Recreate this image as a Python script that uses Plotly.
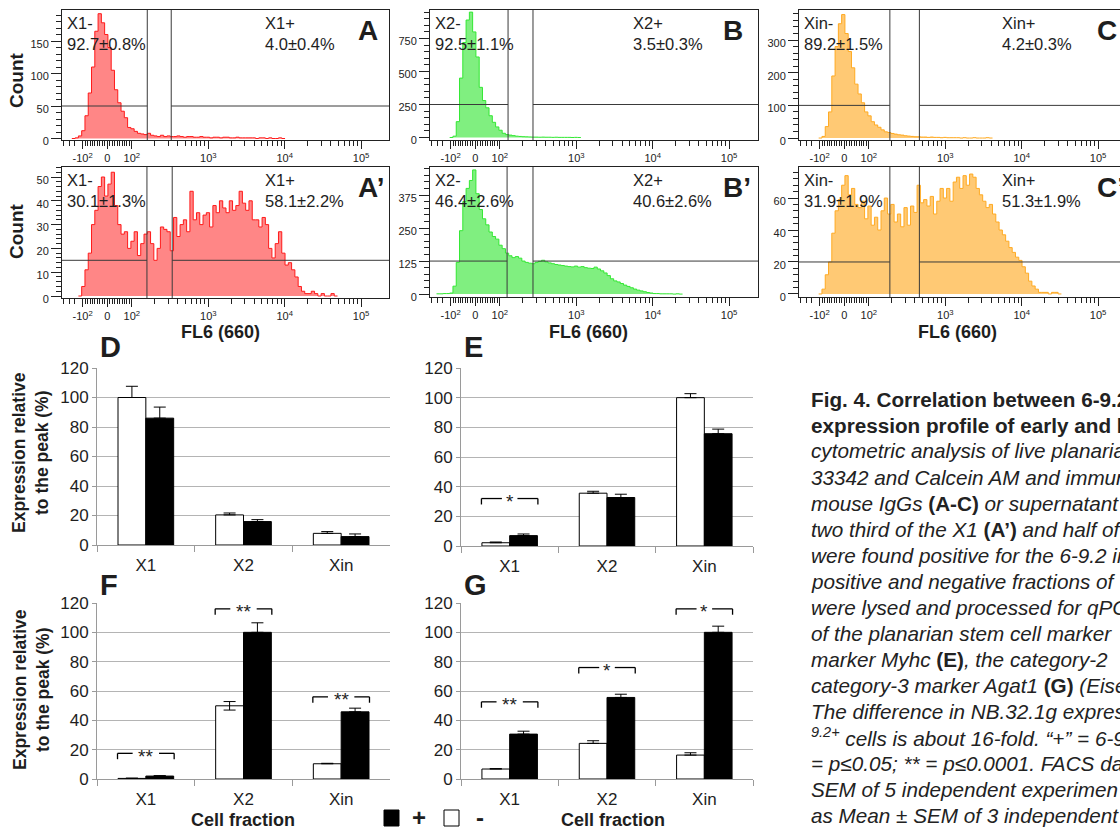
import numpy as np
import plotly.graph_objects as go

W, H = 1120, 829

# ---------------- DATA ----------------
# Flow cytometry histograms: counts per 10-channel FL6 bin (channel scale 0..1000 across the plot)
BIN = 10
A_start = 30
A_counts = [0, 1, 4, 12, 35, 70, 110, 165, 192, 178, 160, 140, 105, 75, 55, 42, 32, 17, 15, 11, 8,
            7, 6, 8, 5, 4, 3, 5, 3, 4, 3, 3, 4, 3, 2, 3, 3, 2,
            2, 3, 2, 2, 1, 2, 2, 1, 2, 2, 1, 1, 2, 1, 1, 1,
            1, 1, 0, 1, 1, 0, 1, 0, 0, 1, 0]
Ap_start = 50
Ap_counts = [0, 4, 11, 18, 30, 36, 46, 50, 42, 47, 52, 38, 30, 26, 27, 20, 23, 27, 17, 22, 26, 27, 22,
             15, 20, 29, 28, 27, 19, 33, 25, 30, 32, 27, 44, 32, 35, 30, 34, 35, 29, 38, 35, 40, 37,
             35, 40, 36, 38, 44, 39, 36, 40, 32, 32, 29, 33, 30, 20, 16, 22, 27, 18, 13, 14, 11, 8,
             4, 2, 1, 1, 2, 1, 0, 1, 0, 0, 1, 0]
B_start = 60
B_counts = [0, 10, 120, 450, 720, 890, 950, 800, 610, 380, 280, 225, 165, 115, 80, 55, 32, 22, 18,
            14, 10, 8, 6, 5, 4, 3, 3, 2, 3, 2, 2, 1, 2, 1, 1, 1, 1, 0, 1, 0]
Bp_start = 20
Bp_counts = [1, 1, 2, 2, 4, 30, 120, 240, 350, 400, 430, 470, 380, 320, 285, 262, 235, 218, 208,
             185, 172, 155, 145, 138, 142, 136, 125, 120, 117, 115, 120, 124, 128, 122, 118, 115,
             112, 110, 108, 106, 104, 103, 106, 102, 104, 100, 98, 97, 102, 95, 88, 80, 70, 58, 50,
             46, 40, 34, 29, 24, 19, 15, 12, 9, 6, 4, 2, 2, 1, 1, 1, 1, 0, 1, 0]
C_start = 60
C_counts = [0, 5, 35, 80, 190, 280, 350, 378, 320, 265, 215, 165, 135, 108, 80, 68, 50, 40, 33, 25,
            19, 17, 14, 12, 10, 9, 7, 6, 5, 4, 4, 3, 3, 2, 3, 2, 2, 1, 2, 1, 1, 1, 1, 0, 1, 0, 0,
            1, 0, 0, 0, 1, 0]
Cp_start = 60
Cp_counts = [0, 3, 12, 20, 38, 52, 59, 68, 74, 62, 66, 56, 54, 58, 47, 55, 43, 48, 40, 52, 60, 50,
             56, 45, 50, 42, 54, 43, 55, 51, 68, 57, 59, 55, 61, 50, 58, 66, 60, 66, 58, 70, 73, 66,
             74, 68, 75, 73, 66, 62, 58, 54, 56, 50, 45, 40, 37, 33, 29, 26, 23, 21, 17, 13, 8, 5,
             3, 1, 1, 1, 0, 1, 1, 0]

neg_names = ["X1-", "X1-", "X2-", "X2-", "Xin-", "Xin-"]
neg_pct = ["92.7±0.8%", "30.1±1.3%", "92.5±1.1%", "46.4±2.6%", "89.2±1.5%", "31.9±1.9%"]
pos_names = ["X1+", "X1+", "X2+", "X2+", "Xin+", "Xin+"]
pos_pct = ["4.0±0.4%", "58.1±2.2%", "3.5±0.3%", "40.6±2.6%", "4.2±0.3%", "51.3±1.9%"]
panel_letters = ["A", "A’", "B", "B’", "C", "C’"]
gate_lo = [260, 259, 238, 235, 277, 277]      # gate boundaries (channels)
gate_hi = [333, 336, 314, 314, 367, 367]
gate_level = [50, 15, 250, 125, 100, 20]       # count level of the horizontal marker

# qPCR bar charts (expression relative to peak, %)
cats = ["X1", "X2", "Xin"]
D_neg = [100, 20.4, 7.9];   D_neg_err = [7.6, 1.3, 1.2]
D_pos = [86, 15.9, 5.7];    D_pos_err = [7.5, 1.3, 1.8]
E_neg = [2.2, 35.6, 100];   E_neg_err = [0.5, 1.3, 2.7]
E_pos = [7.0, 32.7, 75.7];  E_pos_err = [1.1, 2.2, 3.1]
F_neg = [0.4, 49.9, 10.4];  F_neg_err = [0.2, 2.9, 0.3]
F_pos = [2.0, 100, 45.8];   F_pos_err = [0.3, 6.5, 2.5]
G_neg = [6.8, 24.3, 16.3];  G_neg_err = [0.3, 1.8, 1.6]
G_pos = [30.6, 55.6, 100];  G_pos_err = [2.0, 2.2, 4.2]
F_neg_err_minus = [0, 2.9, 0]
E_sig = [("X1", 32, "*")]
F_sig = [("X1", 17.5, "**"), ("X2", 116, "**"), ("Xin", 56, "**")]
G_sig = [("X1", 52.6, "**"), ("X2", 76, "*"), ("Xin", 116, "*")]

caption_lines = [
    "<b>Fig. 4. Correlation between 6-9.2</b>",
    "<b>expression profile of early and late</b>",
    "<i>cytometric analysis of live planarian</i>",
    "<i>33342 and Calcein AM and immuno</i>",
    "<i>mouse IgGs </i><b>(A-C)</b><i> or supernatant fr</i>",
    "<i>two third of the X1 </i><b>(A’)</b><i> and half of</i>",
    "<i>were found positive for the 6-9.2 im</i>",
    "<i>positive and negative fractions of</i>",
    "<i>were lysed and processed for qPC</i>",
    "<i>of the planarian stem cell marker</i>",
    "<i>marker Myhc </i><b>(E)</b><i>, the category-2</i>",
    "<i>category-3 marker Agat1 </i><b>(G)</b><i> (Eisen</i>",
    "<i>The difference in NB.32.1g express</i>",
    "<i><sup>9.2+</sup> cells is about 16-fold. “+” = 6-9</i>",
    "<i>= p≤0.05; ** = p≤0.0001. FACS da</i>",
    "<i>SEM of 5 independent experimen</i>",
    "<i>as Mean ± SEM of 3 independent e</i>",
]

# ---------------- LAYOUT HELPERS ----------------
FONT = "Liberation Sans, Arial, Helvetica, sans-serif"
INK = "#1e1e1e"


def dom_x(a, b):
    return [a / W, min(b / W, 1.0)]


def dom_y(top, bottom):
    return [1 - bottom / H, 1 - top / H]


def px(x):
    return x / W


def py(y):
    return 1 - y / H


def chan(v):
    v = float(v)
    if v >= 100:
        return 213 + 233 * (np.log10(v) - 2)
    if v >= -100:
        return 138 + 0.75 * v
    return 63 - 0.35 * 233 * (np.log10(-v) - 2)


major_vals = [chan(v) for v in [-100, 0, 100, 1e3, 1e4, 1e5]]
major_text = ["-10<sup>2</sup>", "0", "10<sup>2</sup>", "10<sup>3</sup>", "10<sup>4</sup>", "10<sup>5</sup>"]
minor_vals = [chan(v) for v in [-500, -300, -200]]
minor_vals += [chan(v) for v in range(-90, 100, 10) if v != 0]
minor_vals += [chan(m * 10 ** e) for e in (2, 3, 4) for m in range(2, 10)]

fig = go.Figure()
layout = dict(
    width=W, height=H, margin=dict(l=0, r=0, t=0, b=0, autoexpand=False),
    paper_bgcolor="white", plot_bgcolor="white",
    font=dict(family=FONT, color=INK),
    showlegend=False, barmode="group", bargap=0.43, bargroupgap=0,
)
shapes, annotations = [], []

hist_data = [(A_start, A_counts), (Ap_start, Ap_counts), (B_start, B_counts),
             (Bp_start, Bp_counts), (C_start, C_counts), (Cp_start, Cp_counts)]
hist_box = [(62, 389, 10, 140), (62, 389, 167, 298), (430, 758, 10, 140),
            (430, 758, 167, 297), (799, 1120, 10, 140), (799, 1120, 167, 297)]
hist_yrange = [[-2.3, 197.7], [-0.84, 54.2], [-19, 966], [-11, 481], [-6, 392], [-1.9, 79.4]]
hist_dtick = [(50, 10), (10, 2), (250, 50), (125, 25), (100, 20), (20, 4)]
line_cols = ["#ff1a1a", "#ff1a1a", "#33e833", "#33e833", "#ffaa22", "#ffaa22"]
fill_cols = ["rgba(255,60,60,0.62)", "rgba(255,60,60,0.62)", "rgba(60,230,60,0.65)",
             "rgba(60,230,60,0.65)", "rgba(255,175,50,0.68)", "rgba(255,175,50,0.68)"]
letter_left = [356, 356, 721, 721, 1095, 1095]

for i in range(6):
    n = i + 1
    xa, ya = ("x" if n == 1 else f"x{n}"), ("y" if n == 1 else f"y{n}")
    xk, yk = ("xaxis" if n == 1 else f"xaxis{n}"), ("yaxis" if n == 1 else f"yaxis{n}")
    l, r, t, b = hist_box[i]
    xmax = 1000 * (r - l) / 328.0
    start, counts = hist_data[i]
    xs = [start + BIN * k for k in range(len(counts))] + [start + BIN * len(counts)]
    ys = list(counts) + [0]
    fig.add_trace(go.Scatter(x=xs, y=ys, mode="lines", line=dict(shape="hv", color=line_cols[i], width=1),
                             fill="tozeroy", fillcolor=fill_cols[i], xaxis=xa, yaxis=ya,
                             hoverinfo="skip"))
    layout[xk] = dict(domain=dom_x(l, r), range=[0, xmax], anchor=ya, showline=True, mirror=True,
                      linecolor="#222", linewidth=1, ticks="outside", ticklen=8, tickcolor="#222",
                      tickmode="array", tickvals=major_vals, ticktext=major_text,
                      tickfont=dict(size=11, color="#222"), showgrid=False, zeroline=False,
                      automargin=False,
                      minor=dict(tickmode="array", tickvals=minor_vals, ticks="outside", ticklen=5,
                                 tickcolor="#222", showgrid=False))
    d1, d2 = hist_dtick[i]
    layout[yk] = dict(domain=dom_y(t, b), range=hist_yrange[i], anchor=xa, showline=True, mirror=True,
                      linecolor="#222", linewidth=1, ticks="outside", ticklen=10, tickcolor="#222",
                      tickmode="linear", tick0=0, dtick=d1, tickfont=dict(size=11, color="#222"),
                      ticklabelshift=3, ticklabelstandoff=0, automargin=False,
                      showgrid=False, zeroline=False,
                      minor=dict(tickmode="linear", tick0=0, dtick=d2, ticks="outside", ticklen=5,
                                 tickcolor="#222", showgrid=False))
    g1, g2, lv = gate_lo[i], gate_hi[i], gate_level[i]
    gl = dict(color="#3a3a3a", width=1)
    shapes += [
        dict(type="line", xref=xa, yref=ya, x0=0, x1=g1, y0=lv, y1=lv, line=gl),
        dict(type="line", xref=xa, yref=ya, x0=g2, x1=xmax + 20, y0=lv, y1=lv, line=gl),
        dict(type="line", xref=xa, yref=f"{ya} domain", x0=g1, x1=g1, y0=0, y1=1, line=gl),
        dict(type="line", xref=xa, yref=f"{ya} domain", x0=g2, x1=g2, y0=0, y1=1, line=gl),
    ]
    row1, row2 = t + 13, t + 34.5
    for txt, xx, yy in [(neg_names[i], l + 3, row1), (neg_pct[i], l + 3, row2),
                        (pos_names[i], l + 201, row1), (pos_pct[i], l + 201, row2)]:
        annotations.append(dict(text=txt, x=px(xx), y=py(yy), xref="paper", yref="paper",
                                xanchor="left", yanchor="middle", showarrow=False,
                                font=dict(size=16.5, color=INK)))
    annotations.append(dict(text=f"<b>{panel_letters[i]}</b>", x=px(letter_left[i]), y=py(t + 20),
                            xref="paper", yref="paper", xanchor="left", yanchor="middle",
                            showarrow=False, font=dict(size=28, color=INK)))
    if i % 2 == 1:
        annotations.append(dict(text="<b>FL6 (660)</b>", x=px(l + 158), y=py(332), xref="paper",
                                yref="paper", xanchor="center", yanchor="middle", showarrow=False,
                                font=dict(size=18, color=INK)))
    if i < 2:
        annotations.append(dict(text="<b>Count</b>", x=px(17), y=py(80 if i == 0 else 231),
                                xref="paper", yref="paper", textangle=-90, xanchor="center",
                                yanchor="middle", showarrow=False, font=dict(size=19, color=INK)))

bar_sets = [(D_neg, D_neg_err, [0, 0, 0], D_pos, D_pos_err, []),
            (E_neg, E_neg_err, [0, 0, 0], E_pos, E_pos_err, E_sig),
            (F_neg, F_neg_err, F_neg_err_minus, F_pos, F_pos_err, F_sig),
            (G_neg, G_neg_err, [0, 0, 0], G_pos, G_pos_err, G_sig)]
bar_box = [(97, 390, 368, 545), (461, 753, 368, 546), (97, 390, 603, 779), (461, 753, 603, 779)]
bar_letters = ["D", "E", "F", "G"]
bar_letter_pos = [(98, 347), (462, 347), (98, 585), (462, 585)]
GRID = "#b4b4b4"
AX = "#9a9a9a"
for j in range(4):
    n = 7 + j
    xa, ya, xk, yk = f"x{n}", f"y{n}", f"xaxis{n}", f"yaxis{n}"
    neg, neg_e, neg_em, pos, pos_e, sig = bar_sets[j]
    l, r, t, b = bar_box[j]
    fig.add_trace(go.Bar(x=cats, y=neg, name="-", xaxis=xa, yaxis=ya,
                         marker=dict(color="white", line=dict(color="black", width=1)),
                         error_y=dict(type="data", array=neg_e, arrayminus=neg_em, symmetric=False,
                                      color="black", thickness=1, width=6), hoverinfo="skip"))
    fig.add_trace(go.Bar(x=cats, y=pos, name="+", xaxis=xa, yaxis=ya,
                         marker=dict(color="black", line=dict(color="black", width=1)),
                         error_y=dict(type="data", array=pos_e, arrayminus=[0, 0, 0], symmetric=False,
                                      color="black", thickness=1, width=6), hoverinfo="skip"))
    layout[xk] = dict(domain=dom_x(l, r), anchor=ya, type="category", categoryorder="array",
                      categoryarray=cats, showline=True, linecolor=AX, linewidth=1, ticks="outside",
                      tickson="boundaries", ticklen=6, tickcolor=AX, tickfont=dict(size=17, color=INK),
                      ticklabelstandoff=5, showgrid=False, zeroline=False, automargin=False)
    layout[yk] = dict(domain=dom_y(t, b), anchor=xa, range=[0, 120], tickmode="linear", tick0=0, dtick=20,
                      showline=True, linecolor=AX, linewidth=1, ticks="outside", ticklen=4, tickcolor=AX,
                      tickfont=dict(size=17, color=INK), showgrid=True, gridcolor=GRID, gridwidth=1,
                      zeroline=False, automargin=False)
    lx, ly = bar_letter_pos[j]
    annotations.append(dict(text=f"<b>{bar_letters[j]}</b>", x=px(lx), y=py(ly), xref="paper",
                            yref="paper", xanchor="left", yanchor="middle", showarrow=False,
                            font=dict(size=29, color=INK)))
    for cat, ytop, star in sig:
        c = cats.index(cat)
        hw = 0.29
        gap = 0.135 if star == "**" else 0.08
        bl = dict(color="black", width=1.3)
        for (x0, y0, x1, y1) in [(c - hw, ytop - 4, c - hw, ytop), (c - hw, ytop, c - gap, ytop),
                                 (c + gap, ytop, c + hw, ytop), (c + hw, ytop, c + hw, ytop - 4)]:
            shapes.append(dict(type="line", xref=xa, yref=ya, x0=x0, y0=y0, x1=x1, y1=y1, line=bl))
        annotations.append(dict(text=star, x=c, y=ytop, xref=xa, yref=ya, xanchor="center",
                                yanchor="middle", yshift=-3, showarrow=False,
                                font=dict(size=19, color=INK)))

for yc in (453, 690):
    annotations.append(dict(text="<b>Expression relative<br>to the peak (%)</b>", x=px(31), y=py(yc),
                            xref="paper", yref="paper", textangle=-90, xanchor="center",
                            yanchor="middle", showarrow=False, font=dict(size=17.5, color=INK)))
for xc in (243, 613):
    annotations.append(dict(text="<b>Cell fraction</b>", x=px(xc), y=py(820), xref="paper",
                            yref="paper", xanchor="center", yanchor="middle", showarrow=False,
                            font=dict(size=18, color=INK)))

shapes.append(dict(type="rect", xref="paper", yref="paper", x0=px(384), x1=px(399), y0=py(826),
                   y1=py(810), fillcolor="black", line=dict(color="black", width=1)))
shapes.append(dict(type="rect", xref="paper", yref="paper", x0=px(444), x1=px(459), y0=py(826),
                   y1=py(810), fillcolor="white", line=dict(color="black", width=1)))
annotations.append(dict(text="<b>+</b>", x=px(419), y=py(817), xref="paper", yref="paper",
                        xanchor="center", yanchor="middle", showarrow=False, font=dict(size=24, color=INK)))
annotations.append(dict(text="<b>-</b>", x=px(480), y=py(817), xref="paper", yref="paper",
                        xanchor="center", yanchor="middle", showarrow=False, font=dict(size=24, color=INK)))

for k, line in enumerate(caption_lines):
    annotations.append(dict(text=line, x=px(809), y=py(399 + 26 * k), xref="paper", yref="paper",
                            xanchor="left", yanchor="middle", showarrow=False, align="left",
                            font=dict(size=20.7, color="#222")))

layout["shapes"] = shapes
layout["annotations"] = annotations
fig.update_layout(**layout)
fig.write_html("out.html", config={"displayModeBar": False},
               post_script="document.body.style.margin='0';document.body.style.overflow='hidden';")
